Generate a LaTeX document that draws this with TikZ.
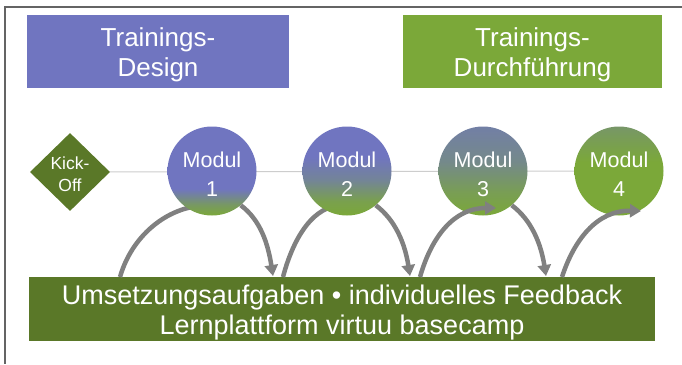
\documentclass[tikz,border=0pt]{standalone}
\usepackage{fontspec}
\setmainfont{Liberation Sans}
\usetikzlibrary{shapes.geometric,arrows.meta,calc}
\definecolor{dblue}{RGB}{112,117,192}
\definecolor{lgreen}{RGB}{123,168,57}
\definecolor{dgreen}{RGB}{90,120,40}
\definecolor{arrowgray}{RGB}{128,128,128}
\definecolor{framegray}{RGB}{100,100,100}
\definecolor{linegray}{RGB}{205,205,205}
\pgfdeclareverticalshading{mshadeA}{100bp}{color(0bp)=(lgreen); color(25bp)=(lgreen); color(31bp)=(lgreen!70!dblue); color(40bp)=(dblue); color(100bp)=(dblue)}
\pgfdeclareverticalshading{mshadeB}{100bp}{color(0bp)=(lgreen); color(25bp)=(lgreen); color(33bp)=(lgreen!85!dblue); color(45bp)=(dblue!70!lgreen); color(58bp)=(dblue); color(100bp)=(dblue)}
\pgfdeclareverticalshading{mshadeC}{100bp}{color(0bp)=(lgreen); color(25bp)=(lgreen); color(38bp)=(lgreen!80!dblue); color(55bp)=(dblue!60!lgreen); color(75bp)=(dblue!80!lgreen); color(100bp)=(dblue!80!lgreen)}
\pgfdeclareverticalshading{mshadeD}{100bp}{color(0bp)=(lgreen); color(25bp)=(lgreen); color(55bp)=(lgreen); color(70bp)=(lgreen!75!dblue); color(75bp)=(lgreen!65!dblue); color(100bp)=(lgreen!65!dblue)}
\begin{document}
\begin{tikzpicture}[x=1pt,y=-1pt,
  boxtext/.style={text=white, align=center, inner sep=0pt},
  titletext/.style={boxtext, font=\fontsize{26}{30}\selectfont},
  modul/.style={circle, minimum size=89pt, inner sep=0pt},
  modultext/.style={boxtext, font=\fontsize{21.5}{29}\selectfont},
  kickoff/.style={diamond, fill=dgreen, minimum width=80pt, minimum height=78pt, inner sep=0pt},
  flow/.style={draw=arrowgray, line width=4.5pt, -{Triangle[length=11pt,width=13pt]}},
  ]
\useasboundingbox (0,0) rectangle (682,364);
\fill[white] (0,0) rectangle (682,364);
\draw[framegray, line width=1.2pt] (682,7) -- (5,7) -- (5,364);

% title boxes
\node[fill=dblue, minimum width=262pt, minimum height=73pt, inner sep=0pt] (design) at (158,51.5) {};
\node[titletext] (designtext) at (158,55) {Trainings-\\Design};
\node[fill=lgreen, minimum width=259pt, minimum height=73pt, inner sep=0pt] (durch) at (532.5,51.5) {};
\node[titletext] (durchtext) at (532.5,55) {Trainings-\\Durchführung};

% bottom box
\node[fill=dgreen, minimum width=626pt, minimum height=64pt, inner sep=0pt] (base) at (342,309) {};
\node[boxtext, font=\fontsize{27}{30}\selectfont] (basetext) at (342,312.5) {Umsetzungsaufgaben • individuelles Feedback\\Lernplattform virtuu basecamp};

% centres
\coordinate (koc) at (70,172);
\coordinate (m1c) at (212,171);
\coordinate (m2c) at (347,171);
\coordinate (m3c) at (483,171);
\coordinate (m4c) at (619,171);

% arc endpoints on the bottom box
\coordinate (u1) at (120,277);
\coordinate (d1) at (273,276);
\coordinate (u2) at (283,277);
\coordinate (d2) at (410,276);
\coordinate (u3) at (420,277);
\coordinate (d3) at (546,276);
\coordinate (u4) at (562,277);

% ends of the upward arcs
\coordinate (e1) at (217,206);
\coordinate (e2) at (352,206);
\coordinate (e3) at (496,208);
\coordinate (e4) at (641,211);

% connector line behind
\draw[linegray, line width=1pt] (koc) -- (m4c);
\node[kickoff] (ko) at (koc) {};
\node[boxtext, font=\fontsize{17.5}{22}\selectfont] (kotext) at (70,174) {Kick-\\Off};

% upward arcs drawn under circles 1 and 2
\draw[flow] (u1) .. controls (133,232) and (172,205) .. (e1);
\draw[flow] (u2) .. controls (294,235) and (315,205) .. (e2);

% modules
\node[modul, shading=mshadeA] (m1) at (m1c) {};
\node[modul, shading=mshadeB] (m2) at (m2c) {};
\node[modul, shading=mshadeC] (m3) at (m3c) {};
\node[modul, shading=mshadeD] (m4) at (m4c) {};

% upward arcs drawn over circles 3 and 4
\draw[flow] (u3) .. controls (432,235) and (455,208) .. (e3);
\draw[flow] (u4) .. controls (574,240) and (597,210) .. (e4);

% module labels
\node[modultext] (m1text) at ($(m1c)+(0,3.5)$) {Modul\\1};
\node[modultext] (m2text) at ($(m2c)+(0,3.5)$) {Modul\\2};
\node[modultext] (m3text) at ($(m3c)+(0,3.5)$) {Modul\\3};
\node[modultext] (m4text) at ($(m4c)+(0,3.5)$) {Modul\\4};

% downward arcs
\draw[flow] (m1.-50) .. controls ($(m1.-50)+(20,15)$) and ($(d1)+(-5,-32)$) .. (d1);
\draw[flow] (m2.-50) .. controls ($(m2.-50)+(20,15)$) and ($(d2)+(-5,-32)$) .. (d2);
\draw[flow] (m3.-50) .. controls ($(m3.-50)+(20,15)$) and ($(d3)+(-5,-32)$) .. (d3);
\end{tikzpicture}
\end{document}
